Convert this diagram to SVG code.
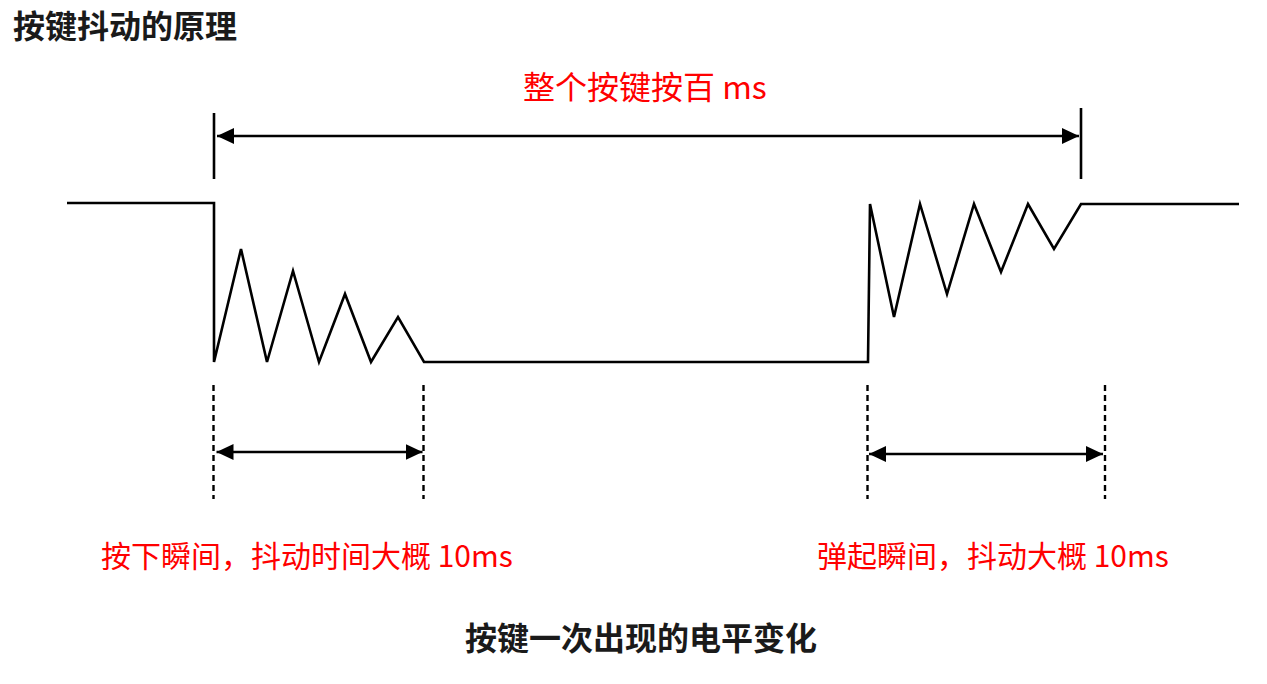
<svg xmlns="http://www.w3.org/2000/svg" width="1267" height="684" viewBox="0 0 1267 684">
<style>
.wave{fill:none;stroke:#000;stroke-width:2.6;stroke-linejoin:miter}
.tick{stroke:#000;stroke-width:2.6}
.dash{stroke:#000;stroke-width:2.4;stroke-dasharray:6 4}
.dim{stroke:#000;stroke-width:2.6}
.t{font-family:"Noto Sans CJK SC","Liberation Sans",sans-serif}
.red{fill:#ff0000;font-size:30px}
.blk{fill:#1a1a1a;font-size:32px;font-weight:bold}
</style>
<defs>
<marker id="ah" viewBox="0 0 17 16" refX="17" refY="8" markerWidth="17" markerHeight="16" orient="auto-start-reverse" markerUnits="userSpaceOnUse">
<path d="M0,0 L17,8 L0,16 z" fill="#000"/>
</marker>
</defs>
<rect width="1267" height="684" fill="#fff"/>
<g id="title"><text class="t blk" x="13" y="38">按键抖动的原理</text></g>
<g id="waveform">
<path class="wave" d="M67,203 L214,203 L214,362 L241,249 L267,362 L293,271 L319,362 L345,294 L371,362 L398,317 L424,362 L868,362 L870,204 L894,317 L920,204 L947,294 L974,204 L1001,272 L1028,204 L1054,249 L1081,204 L1239,204"/>
</g>
<g id="connectors">
<line class="tick" x1="214" y1="113" x2="214" y2="179"/>
<line class="tick" x1="1081" y1="108" x2="1081" y2="179"/>
<line class="dim" x1="217" y1="136" x2="1079" y2="136" marker-start="url(#ah)" marker-end="url(#ah)"/>
<line class="dash" x1="213.5" y1="385" x2="213.5" y2="499"/>
<line class="dash" x1="423.5" y1="385" x2="423.5" y2="499"/>
<line class="dash" x1="867.5" y1="385" x2="867.5" y2="499"/>
<line class="dash" x1="1105" y1="385" x2="1105" y2="499"/>
<line class="dim" x1="216.5" y1="452" x2="422.5" y2="452" marker-start="url(#ah)" marker-end="url(#ah)"/>
<line class="dim" x1="869" y1="454" x2="1103" y2="454" marker-start="url(#ah)" marker-end="url(#ah)"/>
</g>
<g id="label-total"><text class="t red" x="523" y="99" style="font-size:32px">整个按键按百 ms</text></g>
<g id="label-press"><text class="t red" x="101" y="567">按下瞬间，抖动时间大概 10ms</text></g>
<g id="label-release"><text class="t red" x="817" y="567">弹起瞬间，抖动大概 10ms</text></g>
<g id="caption"><text class="t blk" x="465" y="650">按键一次出现的电平变化</text></g>
</svg>
